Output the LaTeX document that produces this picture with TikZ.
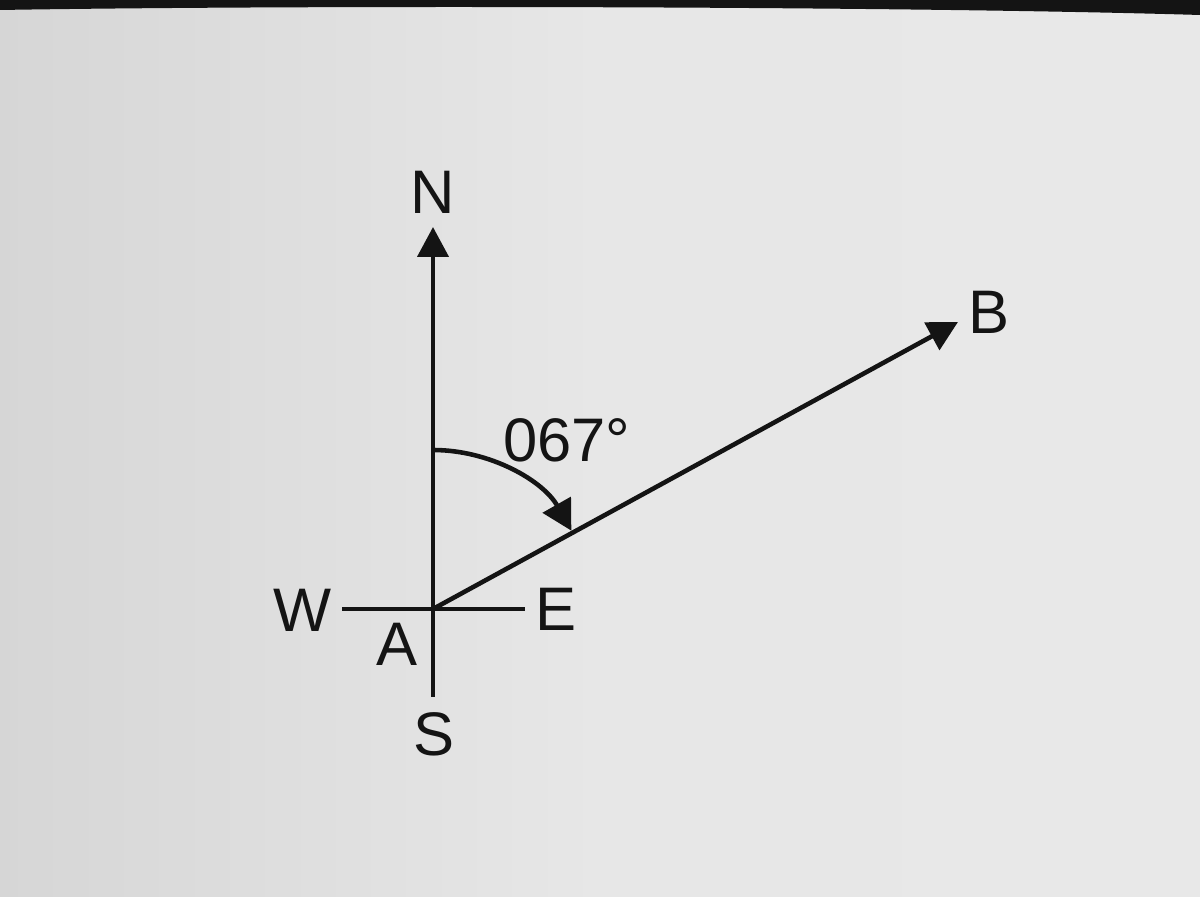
\documentclass[tikz,border=0pt]{standalone}
\usepackage{fontspec}
\setmainfont{Liberation Sans}
\usetikzlibrary{arrows.meta}
\begin{document}
\begin{tikzpicture}[x=0.02cm,y=0.02cm,
  axis/.style={line width=2.6pt, draw=black!92},
  bigtip/.style={-{Triangle[length=17pt,width=17.5pt]}},
  lbl/.style={inner sep=0pt, text=black!92, font=\fontsize{35}{40}\selectfont}]
\useasboundingbox (0,0) rectangle (1200,896);
\shade[left color={rgb,255:red,214;green,214;blue,214}, right color={rgb,255:red,232;green,232;blue,232}, middle color={rgb,255:red,231;green,231;blue,231}] (0,0) rectangle (1200,896);
\fill[black!92] (0,896) -- (1200,896) -- (1200,881) .. controls (900,890) and (300,891) .. (0,886) -- cycle;
% points
\coordinate (A) at (433,287);
\coordinate (Ntip) at (433,669);
\coordinate (Wend) at (342,287);
\coordinate (Eend) at (525,287);
\coordinate (Send) at (433,199);
\coordinate (Btip) at (958,574);
% axes
\draw[axis] (Wend) -- (Eend);
\draw[axis] (A) -- (Send);
\draw[axis,bigtip] (A) -- (Ntip);
\draw[axis,bigtip] (A) -- (Btip);
\draw[axis,-{Triangle[length=17pt,width=18pt]}] ([shift={(90:159)}]A) arc[start angle=90,end angle=29.5,radius=159];
% labels
\node[lbl] (N) at (432.5,703.5) {N};
\node[lbl] (W) at (303,286) {W};
\node[lbl] (E) at (556,287) {E};
\node[lbl] (Alab) at (397,252) {A};
\node[lbl] (S) at (434,162) {S};
\node[lbl] (B) at (989,584) {B};
\node[lbl] (ang) at (567,456) {067°};
\end{tikzpicture}
\end{document}
